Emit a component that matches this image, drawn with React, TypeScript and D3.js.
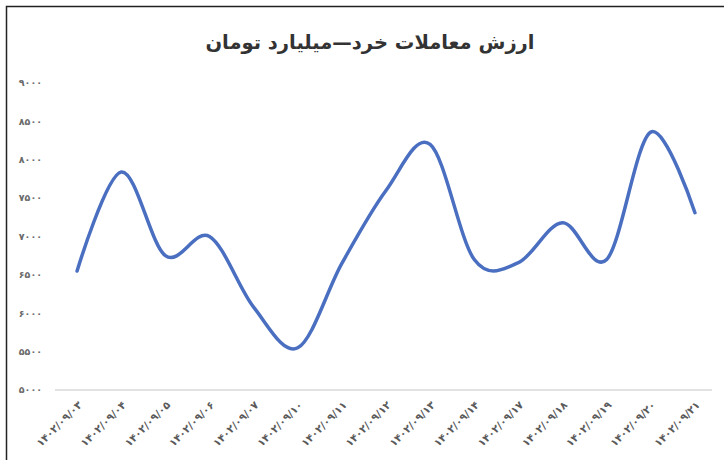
import React, { useEffect, useRef } from "react";
import * as d3 from "d3";

const dates = [
  "1402/09/03",
  "1402/09/04",
  "1402/09/05",
  "1402/09/06",
  "1402/09/07",
  "1402/09/10",
  "1402/09/11",
  "1402/09/12",
  "1402/09/13",
  "1402/09/14",
  "1402/09/17",
  "1402/09/18",
  "1402/09/19",
  "1402/09/20",
  "1402/09/21",
];

const values = [6550, 7840, 6750, 7000, 6080, 5550, 6650, 7600, 8200, 6700, 6660, 7180, 6700, 8360, 7310];

const yTicks = [5000, 5500, 6000, 6500, 7000, 7500, 8000, 8500, 9000];

const title = "ارزش معاملات خرد—میلیارد تومان";

// latin digits -> persian digits
function fa(s: string) {
  return s.replace(/[0-9]/g, (c) => "۰۱۲۳۴۵۶۷۸۹"[+c]);
}

export default function App() {
  const ref = useRef<SVGSVGElement>(null);

  useEffect(() => {
    const width = 724,
      height = 460;
    const margin = { left: 55, right: 7, top: 83, bottom: 70 };

    const svg = d3.select(ref.current);
    svg.selectAll("*").remove();

    svg.append("rect").attr("width", width).attr("height", height).attr("fill", "#ffffff");

    // frame of the picture
    svg
      .append("path")
      .attr("d", "M6.5," + height + " V6.5 H" + width)
      .attr("fill", "none")
      .attr("stroke", "#222")
      .attr("stroke-width", 1.5);

    var x = d3
      .scalePoint()
      .domain(dates)
      .range([margin.left, width - margin.right])
      .padding(0.5);

    var y = d3
      .scaleLinear()
      .domain([5000, 9000])
      .range([height - margin.bottom, margin.top]);

    svg
      .append("text")
      .attr("x", 370)
      .attr("y", 49)
      .attr("text-anchor", "middle")
      .style("font-family", "'DejaVu Sans', sans-serif")
      .style("font-weight", "bold")
      .style("font-size", "19.5px")
      .style("fill", "#333333")
      .text(title);

    // y tick labels
    svg
      .selectAll(".ytick")
      .data(yTicks)
      .enter()
      .append("text")
      .attr("class", "ytick")
      .attr("x", 42)
      .attr("y", (d: any) => y(d))
      .attr("dy", "0.35em")
      .attr("text-anchor", "end")
      .style("font-family", "'DejaVu Sans', sans-serif")
      .style("font-size", "9.5px")
      .style("font-weight", "bold")
      .style("fill", "#6a6a6a")
      .text((d: any) => fa(String(d)));

    // baseline
    svg
      .append("line")
      .attr("x1", margin.left)
      .attr("x2", width - margin.right - 5)
      .attr("y1", y(5000))
      .attr("y2", y(5000))
      .attr("stroke", "#d9d9d9")
      .attr("stroke-width", 1.5);

    // x labels, rotated
    svg
      .selectAll(".xtick")
      .data(dates)
      .enter()
      .append("text")
      .attr("class", "xtick")
      .attr("transform", (d: any) => "translate(" + ((x(d) as number) + 3) + "," + (y(5000) + 13) + ") rotate(-45)")
      .attr("text-anchor", "end")
      .attr("dy", "0.35em")
      .style("font-family", "'DejaVu Sans', sans-serif")
      .style("font-size", "10.5px")
      .style("font-weight", "bold")
      .style("fill", "#5a5a5a")
      .text((d: any) => fa(d));

    var line = d3
      .line<number>()
      .x((d, i) => x(dates[i]) as number)
      .y((d) => y(d))
      .curve(d3.curveCatmullRom.alpha(0));

    svg
      .append("path")
      .datum(values)
      .attr("d", line)
      .attr("fill", "none")
      .attr("stroke", "#4a6fc0")
      .attr("stroke-width", 3.5)
      .attr("stroke-linecap", "round");
  }, []);

  return (
    <svg
      ref={ref}
      width={724}
      height={460}
      style={{ position: "absolute", left: 0, top: 0 }}
    ></svg>
  );
}
